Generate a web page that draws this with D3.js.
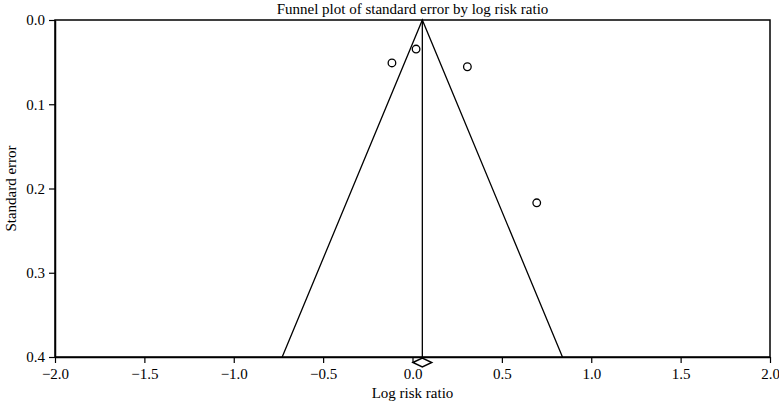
<!DOCTYPE html>
<html>
<head>
<meta charset="utf-8">
<script src="https://cdn.jsdelivr.net/npm/d3@7"></script>
<style>
  body { margin: 0; background: #fff; }
</style>
</head>
<body>
<svg id="chart"></svg>
<script>
// study estimates
const logRR = [-0.115, 0.02, 0.307, 0.695];
const stdErr = [0.051, 0.0345, 0.0555, 0.217];
// pooled estimate and its CI
const pooled = 0.055;
const pooledLo = 0.002;
const pooledHi = 0.108;
const xTicks = [-2.0, -1.5, -1.0, -0.5, 0.0, 0.5, 1.0, 1.5, 2.0];
const yTicks = [0.0, 0.1, 0.2, 0.3, 0.4];

const FONT = '"Liberation Serif", "Times New Roman", Times, "DejaVu Serif", serif';
const W = 779, H = 403;
const margin = {top: 20, right: 9, bottom: 46, left: 55};
const width = W - margin.left - margin.right;
const height = H - margin.top - margin.bottom;

const svg = d3.select('#chart').attr('width', W).attr('height', H)
    .attr('font-family', FONT);
const g = svg.append('g')
    .attr('transform', 'translate(' + margin.left + ',' + margin.top + ')');

const x = d3.scaleLinear().domain([-2, 2]).range([0, width]);
const y = d3.scaleLinear().domain([0, 0.4]).range([0, height]);

// axes
const xAxis = g.append('g')
    .attr('transform', 'translate(0,' + height + ')')
    .call(d3.axisBottom(x).tickValues(xTicks).tickSize(6).tickSizeOuter(0));
const yAxis = g.append('g')
    .call(d3.axisLeft(y).tickValues(yTicks).tickSize(6).tickSizeOuter(0));
[xAxis, yAxis].forEach(function(a) {
  a.attr('font-family', FONT).attr('font-size', 15);
  a.selectAll('text')
      .attr('fill', '#000')
      .style('font-family', FONT)
      .style('font-size', '15px')
      .text(function(d) { return d < 0 ? '\u2212' + Math.abs(d).toFixed(1) : d.toFixed(1); });
  a.selectAll('line').attr('stroke', '#000').attr('stroke-width', 1.2);
  a.select('.domain').attr('stroke', '#000').attr('stroke-width', 1.5);
});
xAxis.selectAll('text').attr('y', 8).attr('dy', '0.9em');
yAxis.selectAll('text').attr('x', -10);

// frame
g.append('rect')
    .attr('width', width).attr('height', height)
    .attr('fill', 'none').attr('stroke', '#000').attr('stroke-width', 1.5);

// funnel
const funnel = [
  [pooled - 1.96 * 0.4, 0.4],
  [pooled, 0],
  [pooled + 1.96 * 0.4, 0.4]
];
g.append('path')
    .attr('d', d3.line().x(function(d) { return x(d[0]); }).y(function(d) { return y(d[1]); })(funnel))
    .attr('fill', 'none').attr('stroke', '#000').attr('stroke-width', 1.3);

// pooled line
g.append('line')
    .attr('x1', x(pooled)).attr('x2', x(pooled))
    .attr('y1', y(0)).attr('y2', y(0.4))
    .attr('stroke', '#000').attr('stroke-width', 1.3);

// diamond below axis
const dy = height + 5.5;
g.append('path')
    .attr('d', 'M' + x(pooledLo) + ',' + dy + 'L' + x(pooled) + ',' + (dy - 4.5) +
        'L' + x(pooledHi) + ',' + dy + 'L' + x(pooled) + ',' + (dy + 4.5) + 'Z')
    .attr('fill', '#fff').attr('stroke', '#000').attr('stroke-width', 1.4);

// study points
g.selectAll('circle.study')
    .data(logRR)
    .enter()
    .append('circle')
    .attr('class', 'study')
    .attr('cx', function(d) { return x(d); })
    .attr('cy', function(d, i) { return y(stdErr[i]); })
    .attr('r', 3.8)
    .attr('fill', 'none').attr('stroke', '#000').attr('stroke-width', 1.3);

// titles
svg.append('text')
    .attr('x', margin.left + x(0)).attr('y', 14)
    .attr('text-anchor', 'middle').style('font-family', FONT).style('font-size', '15px')
    .text('Funnel plot of standard error by log risk ratio');
svg.append('text')
    .attr('x', margin.left + x(0)).attr('y', 398)
    .attr('text-anchor', 'middle').style('font-family', FONT).style('font-size', '15px')
    .text('Log risk ratio');
svg.append('text')
    .attr('transform', 'translate(16,' + (margin.top + height / 2) + ') rotate(-90)')
    .attr('text-anchor', 'middle').style('font-family', FONT).style('font-size', '15px')
    .text('Standard error');
</script>
</body>
</html>
